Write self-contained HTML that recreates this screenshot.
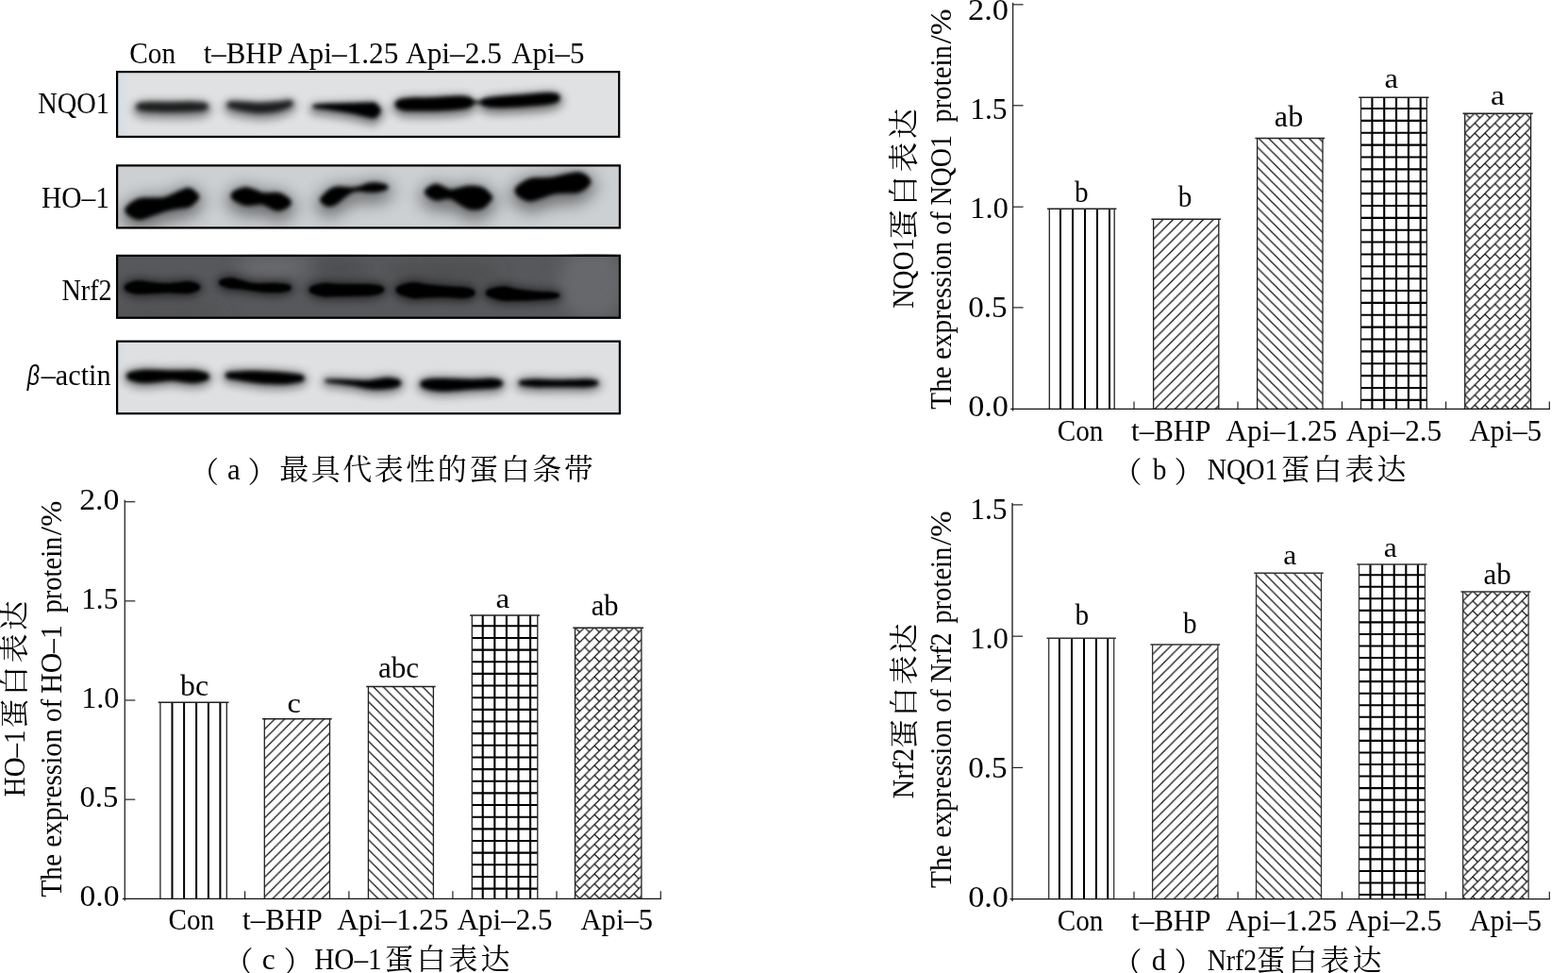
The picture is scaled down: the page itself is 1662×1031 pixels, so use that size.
<!DOCTYPE html>
<html lang="zh"><head><meta charset="utf-8"><title>Figure</title>
<style>html,body{margin:0;padding:0;background:#fff}body{width:1662px;height:1031px;overflow:hidden;position:relative;font-family:"Liberation Serif",serif}svg{position:absolute;left:0;top:0;display:block;will-change:transform}text{font-family:"Liberation Serif",serif;font-kerning:none;white-space:pre}text.cjk{font-family:"Liberation Serif","Noto Serif CJK SC",serif}</style>
</head><body>
<svg width="1662" height="1031" viewBox="0 0 1662 1031">
<defs>
<filter id="b1" filterUnits="userSpaceOnUse" x="90" y="50" width="600" height="420"><feGaussianBlur stdDeviation="1.6"/></filter>
<filter id="b2" filterUnits="userSpaceOnUse" x="90" y="50" width="600" height="420"><feGaussianBlur stdDeviation="2.2"/></filter>
<filter id="b25" filterUnits="userSpaceOnUse" x="90" y="50" width="600" height="420"><feGaussianBlur stdDeviation="2.8"/></filter>
<filter id="b3" filterUnits="userSpaceOnUse" x="90" y="50" width="600" height="420"><feGaussianBlur stdDeviation="5"/></filter>
<filter id="b4" filterUnits="userSpaceOnUse" x="90" y="50" width="600" height="420"><feGaussianBlur stdDeviation="9"/></filter>
</defs>
<clipPath id="cs1"><rect x="123.00" y="75.00" width="534.30" height="71.00"/></clipPath>
<g clip-path="url(#cs1)">
<rect x="123.00" y="75.00" width="534.30" height="71.00" fill="#dfe1e3"/>
<rect x="123" y="75" width="9" height="71" fill="#c6dcee" opacity="0.3" filter="url(#b2)"/>
<path d="M140.26 116.00 C140.26 113.43 143.71 109.80 147.00 108.30 C150.29 106.80 154.00 107.18 160.00 107.00 C166.00 106.82 175.50 107.23 183.00 107.20 C190.50 107.17 199.17 106.65 205.00 106.80 C210.83 106.95 214.71 106.60 218.00 108.10 C221.29 109.60 224.74 113.23 224.74 115.80 C224.74 118.37 221.29 121.90 218.00 123.50 C214.71 125.10 210.83 124.98 205.00 125.40 C199.17 125.82 190.50 125.97 183.00 126.00 C175.50 126.03 166.00 125.98 160.00 125.60 C154.00 125.22 150.29 125.30 147.00 123.70 C143.71 122.10 140.26 118.57 140.26 116.00Z" fill="#060606" filter="url(#b3)" opacity="0.42"/>
<path d="M144.36 113.00 C144.36 111.80 144.39 110.22 147.00 109.40 C149.61 108.58 154.00 108.28 160.00 108.10 C166.00 107.92 175.50 108.33 183.00 108.30 C190.50 108.27 199.17 107.75 205.00 107.90 C210.83 108.05 215.39 108.38 218.00 109.20 C220.61 110.02 220.64 111.60 220.64 112.80 C220.64 114.00 220.61 115.48 218.00 116.40 C215.39 117.32 210.83 117.88 205.00 118.30 C199.17 118.72 190.50 118.87 183.00 118.90 C175.50 118.93 166.00 118.88 160.00 118.50 C154.00 118.12 149.61 117.52 147.00 116.60 C144.39 115.68 144.36 114.20 144.36 113.00Z" fill="#060606" filter="url(#b25)" opacity="0.78"/>
<path d="M236.54 114.10 C236.54 111.67 239.92 108.03 243.00 106.80 C246.08 105.57 249.67 106.53 255.00 106.70 C260.33 106.87 268.33 107.82 275.00 107.80 C281.67 107.78 289.50 107.05 295.00 106.60 C300.50 106.15 304.73 104.10 308.00 105.10 C311.27 106.10 314.60 110.10 314.60 112.60 C314.60 115.10 311.27 118.03 308.00 120.10 C304.73 122.17 300.50 123.85 295.00 125.00 C289.50 126.15 281.67 127.08 275.00 127.00 C268.33 126.92 260.33 125.43 255.00 124.50 C249.67 123.57 246.08 123.13 243.00 121.40 C239.92 119.67 236.54 116.53 236.54 114.10Z" fill="#060606" filter="url(#b3)" opacity="0.42"/>
<path d="M240.64 111.10 C240.64 110.03 240.61 108.45 243.00 107.90 C245.39 107.35 249.67 107.63 255.00 107.80 C260.33 107.97 268.33 108.92 275.00 108.90 C281.67 108.88 289.50 108.15 295.00 107.70 C300.50 107.25 305.42 105.88 308.00 106.20 C310.58 106.52 310.50 108.47 310.50 109.60 C310.50 110.73 310.58 111.62 308.00 113.00 C305.42 114.38 300.50 116.75 295.00 117.90 C289.50 119.05 281.67 119.98 275.00 119.90 C268.33 119.82 260.33 118.33 255.00 117.40 C249.67 116.47 245.39 115.35 243.00 114.30 C240.61 113.25 240.64 112.17 240.64 111.10Z" fill="#060606" filter="url(#b25)" opacity="0.78"/>
<path d="M327.66 115.80 C327.66 113.90 330.11 111.25 333.00 110.10 C335.89 108.95 338.83 109.22 345.00 108.90 C351.17 108.58 362.50 108.42 370.00 108.20 C377.50 107.98 385.33 107.62 390.00 107.60 C394.67 107.58 395.05 106.03 398.00 108.10 C400.95 110.17 407.68 116.03 407.68 120.00 C407.68 123.97 400.95 130.00 398.00 131.90 C395.05 133.80 394.67 132.25 390.00 131.40 C385.33 130.55 377.50 128.18 370.00 126.80 C362.50 125.42 351.17 123.98 345.00 123.10 C338.83 122.22 335.89 122.72 333.00 121.50 C330.11 120.28 327.66 117.70 327.66 115.80Z" fill="#000" filter="url(#b3)" opacity="0.45"/>
<path d="M331.76 112.80 C331.76 112.27 330.79 111.67 333.00 111.20 C335.21 110.73 338.83 110.32 345.00 110.00 C351.17 109.68 362.50 109.52 370.00 109.30 C377.50 109.08 385.33 108.72 390.00 108.70 C394.67 108.68 395.74 107.82 398.00 109.20 C400.26 110.58 403.58 114.40 403.58 117.00 C403.58 119.60 400.26 123.58 398.00 124.80 C395.74 126.02 394.67 125.15 390.00 124.30 C385.33 123.45 377.50 121.08 370.00 119.70 C362.50 118.32 351.17 116.88 345.00 116.00 C338.83 115.12 335.21 114.93 333.00 114.40 C330.79 113.87 331.76 113.33 331.76 112.80Z" fill="#000" filter="url(#b2)" opacity="1.00"/>
<path d="M414.70 113.50 C414.70 110.67 419.12 106.78 422.00 105.00 C424.88 103.22 425.67 103.27 432.00 102.80 C438.33 102.33 451.17 102.55 460.00 102.20 C468.83 101.85 478.67 100.70 485.00 100.70 C491.33 100.70 494.52 100.40 498.00 102.20 C501.48 104.00 505.86 108.40 505.86 111.50 C505.86 114.60 501.48 118.83 498.00 120.80 C494.52 122.77 491.33 122.63 485.00 123.30 C478.67 123.97 468.83 124.58 460.00 124.80 C451.17 125.02 438.33 125.07 432.00 124.60 C425.67 124.13 424.88 123.85 422.00 122.00 C419.12 120.15 414.70 116.33 414.70 113.50Z" fill="#000" filter="url(#b3)" opacity="0.45"/>
<path d="M418.80 110.50 C418.80 109.03 419.80 107.20 422.00 106.10 C424.20 105.00 425.67 104.37 432.00 103.90 C438.33 103.43 451.17 103.65 460.00 103.30 C468.83 102.95 478.67 101.80 485.00 101.80 C491.33 101.80 495.21 102.18 498.00 103.30 C500.79 104.42 501.76 106.77 501.76 108.50 C501.76 110.23 500.79 112.42 498.00 113.70 C495.21 114.98 491.33 115.53 485.00 116.20 C478.67 116.87 468.83 117.48 460.00 117.70 C451.17 117.92 438.33 117.97 432.00 117.50 C425.67 117.03 424.20 116.07 422.00 114.90 C419.80 113.73 418.80 111.97 418.80 110.50Z" fill="#000" filter="url(#b2)" opacity="1.00"/>
<path d="M497 108.4 L515 108.4" stroke="#000" stroke-width="3.5" filter="url(#b2)" opacity="0.9"/>
<path d="M506.19 111.50 C506.19 108.90 509.87 105.38 513.00 103.70 C516.13 102.02 518.83 102.10 525.00 101.40 C531.17 100.70 541.67 100.18 550.00 99.50 C558.33 98.82 568.33 97.55 575.00 97.30 C581.67 97.05 586.25 96.42 590.00 98.00 C593.75 99.58 597.51 103.87 597.51 106.80 C597.51 109.73 593.75 113.62 590.00 115.60 C586.25 117.58 581.67 117.88 575.00 118.70 C568.33 119.52 558.33 120.08 550.00 120.50 C541.67 120.92 531.17 121.40 525.00 121.20 C518.83 121.00 516.13 120.92 513.00 119.30 C509.87 117.68 506.19 114.10 506.19 111.50Z" fill="#000" filter="url(#b3)" opacity="0.45"/>
<path d="M510.29 108.50 C510.29 107.27 510.55 105.80 513.00 104.80 C515.45 103.80 518.83 103.20 525.00 102.50 C531.17 101.80 541.67 101.28 550.00 100.60 C558.33 99.92 568.33 98.65 575.00 98.40 C581.67 98.15 586.93 98.20 590.00 99.10 C593.07 100.00 593.41 102.23 593.41 103.80 C593.41 105.37 593.07 107.20 590.00 108.50 C586.93 109.80 581.67 110.78 575.00 111.60 C568.33 112.42 558.33 112.98 550.00 113.40 C541.67 113.82 531.17 114.30 525.00 114.10 C518.83 113.90 515.45 113.13 513.00 112.20 C510.55 111.27 510.29 109.73 510.29 108.50Z" fill="#000" filter="url(#b2)" opacity="1.00"/>
</g>
<rect x="124.10" y="76.10" width="532.10" height="68.80" fill="none" stroke="#000" stroke-width="2.20"/>
<clipPath id="cs2"><rect x="123.00" y="174.30" width="535.00" height="68.20"/></clipPath>
<g clip-path="url(#cs2)">
<rect x="123.00" y="174.30" width="535.00" height="68.20" fill="#cdd0d3"/>
<path d="M126.80 227.50 C126.80 223.50 133.47 218.48 137.00 215.50 C140.53 212.52 144.00 210.68 148.00 209.60 C152.00 208.52 156.67 209.17 161.00 209.00 C165.33 208.83 169.67 209.60 174.00 208.60 C178.33 207.60 182.83 204.67 187.00 203.00 C191.17 201.33 195.75 198.80 199.00 198.60 C202.25 198.40 203.55 199.27 206.50 201.80 C209.45 204.33 216.70 209.80 216.70 213.80 C216.70 217.80 209.45 223.00 206.50 225.80 C203.55 228.60 202.25 229.57 199.00 230.60 C195.75 231.63 191.17 231.27 187.00 232.00 C182.83 232.73 178.33 233.73 174.00 235.00 C169.67 236.27 165.33 238.17 161.00 239.60 C156.67 241.03 152.00 243.62 148.00 243.60 C144.00 243.58 140.53 242.18 137.00 239.50 C133.47 236.82 126.80 231.50 126.80 227.50Z" fill="#000" filter="url(#b4)" opacity="0.50"/>
<path d="M132.30 222.50 C132.30 220.33 134.38 218.07 137.00 216.00 C139.62 213.93 144.00 211.18 148.00 210.10 C152.00 209.02 156.67 209.67 161.00 209.50 C165.33 209.33 169.67 210.10 174.00 209.10 C178.33 208.10 182.83 205.17 187.00 203.50 C191.17 201.83 195.75 199.30 199.00 199.10 C202.25 198.90 204.47 200.68 206.50 202.30 C208.53 203.92 211.20 206.63 211.20 208.80 C211.20 210.97 208.53 213.42 206.50 215.30 C204.47 217.18 202.25 219.07 199.00 220.10 C195.75 221.13 191.17 220.77 187.00 221.50 C182.83 222.23 178.33 223.23 174.00 224.50 C169.67 225.77 165.33 227.67 161.00 229.10 C156.67 230.53 152.00 233.12 148.00 233.10 C144.00 233.08 139.62 230.77 137.00 229.00 C134.38 227.23 132.30 224.67 132.30 222.50Z" fill="#000" filter="url(#b2)" opacity="1.00"/>
<path d="M239.00 212.50 C239.00 208.83 245.00 203.97 248.50 201.50 C252.00 199.03 256.42 197.92 260.00 197.70 C263.58 197.48 266.93 199.22 270.00 200.20 C273.07 201.18 275.57 203.05 278.40 203.60 C281.23 204.15 284.20 203.50 287.00 203.50 C289.80 203.50 292.20 202.77 295.20 203.60 C298.20 204.43 301.78 205.85 305.00 208.50 C308.22 211.15 314.50 215.83 314.50 219.50 C314.50 223.17 308.22 228.05 305.00 230.50 C301.78 232.95 298.20 234.03 295.20 234.20 C292.20 234.37 289.80 232.63 287.00 231.50 C284.20 230.37 281.23 228.02 278.40 227.40 C275.57 226.78 273.07 227.65 270.00 227.80 C266.93 227.95 263.58 229.02 260.00 228.30 C256.42 227.58 252.00 226.13 248.50 223.50 C245.00 220.87 239.00 216.17 239.00 212.50Z" fill="#000" filter="url(#b4)" opacity="0.50"/>
<path d="M244.50 207.50 C244.50 205.67 245.92 203.55 248.50 202.00 C251.08 200.45 256.42 198.42 260.00 198.20 C263.58 197.98 266.93 199.72 270.00 200.70 C273.07 201.68 275.57 203.55 278.40 204.10 C281.23 204.65 284.20 204.00 287.00 204.00 C289.80 204.00 292.20 203.27 295.20 204.10 C298.20 204.93 302.70 207.27 305.00 209.00 C307.30 210.73 309.00 212.67 309.00 214.50 C309.00 216.33 307.30 218.47 305.00 220.00 C302.70 221.53 298.20 223.53 295.20 223.70 C292.20 223.87 289.80 222.13 287.00 221.00 C284.20 219.87 281.23 217.52 278.40 216.90 C275.57 216.28 273.07 217.15 270.00 217.30 C266.93 217.45 263.58 218.52 260.00 217.80 C256.42 217.08 251.08 214.72 248.50 213.00 C245.92 211.28 244.50 209.33 244.50 207.50Z" fill="#000" filter="url(#b2)" opacity="1.00"/>
<path d="M333.50 216.50 C333.50 212.83 340.25 208.33 343.00 205.50 C345.75 202.67 347.50 200.92 350.00 199.50 C352.50 198.08 355.33 197.33 358.00 197.00 C360.67 196.67 363.33 197.32 366.00 197.50 C368.67 197.68 371.33 198.27 374.00 198.10 C376.67 197.93 379.33 197.27 382.00 196.50 C384.67 195.73 387.33 194.12 390.00 193.50 C392.67 192.88 395.33 192.72 398.00 192.80 C400.67 192.88 404.00 193.55 406.00 194.00 C408.00 194.45 408.10 193.92 410.00 195.50 C411.90 197.08 417.40 200.83 417.40 203.50 C417.40 206.17 411.90 209.92 410.00 211.50 C408.10 213.08 408.00 212.52 406.00 213.00 C404.00 213.48 400.67 214.15 398.00 214.40 C395.33 214.65 392.67 214.65 390.00 214.50 C387.33 214.35 384.67 213.50 382.00 213.50 C379.33 213.50 376.67 213.50 374.00 214.50 C371.33 215.50 368.67 217.58 366.00 219.50 C363.33 221.42 360.67 224.33 358.00 226.00 C355.33 227.67 352.50 229.25 350.00 229.50 C347.50 229.75 345.75 229.67 343.00 227.50 C340.25 225.33 333.50 220.17 333.50 216.50Z" fill="#000" filter="url(#b4)" opacity="0.50"/>
<path d="M339.00 211.50 C339.00 209.67 341.17 207.92 343.00 206.00 C344.83 204.08 347.50 201.42 350.00 200.00 C352.50 198.58 355.33 197.83 358.00 197.50 C360.67 197.17 363.33 197.82 366.00 198.00 C368.67 198.18 371.33 198.77 374.00 198.60 C376.67 198.43 379.33 197.77 382.00 197.00 C384.67 196.23 387.33 194.62 390.00 194.00 C392.67 193.38 395.33 193.22 398.00 193.30 C400.67 193.38 404.00 194.05 406.00 194.50 C408.00 194.95 409.02 195.33 410.00 196.00 C410.98 196.67 411.90 197.67 411.90 198.50 C411.90 199.33 410.98 200.33 410.00 201.00 C409.02 201.67 408.00 202.02 406.00 202.50 C404.00 202.98 400.67 203.65 398.00 203.90 C395.33 204.15 392.67 204.15 390.00 204.00 C387.33 203.85 384.67 203.00 382.00 203.00 C379.33 203.00 376.67 203.00 374.00 204.00 C371.33 205.00 368.67 207.08 366.00 209.00 C363.33 210.92 360.67 213.83 358.00 215.50 C355.33 217.17 352.50 218.75 350.00 219.00 C347.50 219.25 344.83 218.25 343.00 217.00 C341.17 215.75 339.00 213.33 339.00 211.50Z" fill="#000" filter="url(#b2)" opacity="1.00"/>
<path d="M444.35 208.50 C444.35 205.00 450.56 200.37 453.50 198.00 C456.44 195.63 459.25 194.47 462.00 194.30 C464.75 194.13 467.40 196.02 470.00 197.00 C472.60 197.98 474.93 199.95 477.60 200.20 C480.27 200.45 483.10 199.12 486.00 198.50 C488.90 197.88 492.00 196.82 495.00 196.50 C498.00 196.18 501.17 196.30 504.00 196.60 C506.83 196.90 509.75 197.32 512.00 198.30 C514.25 199.28 514.88 199.80 517.50 202.50 C520.12 205.20 527.70 210.50 527.70 214.50 C527.70 218.50 520.12 223.70 517.50 226.50 C514.88 229.30 514.25 230.22 512.00 231.30 C509.75 232.38 506.83 232.97 504.00 233.00 C501.17 233.03 498.00 232.58 495.00 231.50 C492.00 230.42 488.90 228.15 486.00 226.50 C483.10 224.85 480.27 222.35 477.60 221.60 C474.93 220.85 472.60 221.75 470.00 222.00 C467.40 222.25 464.75 223.60 462.00 223.10 C459.25 222.60 456.44 221.43 453.50 219.00 C450.56 216.57 444.35 212.00 444.35 208.50Z" fill="#000" filter="url(#b4)" opacity="0.50"/>
<path d="M449.85 203.50 C449.85 201.83 451.48 199.95 453.50 198.50 C455.52 197.05 459.25 194.97 462.00 194.80 C464.75 194.63 467.40 196.52 470.00 197.50 C472.60 198.48 474.93 200.45 477.60 200.70 C480.27 200.95 483.10 199.62 486.00 199.00 C488.90 198.38 492.00 197.32 495.00 197.00 C498.00 196.68 501.17 196.80 504.00 197.10 C506.83 197.40 509.75 197.82 512.00 198.80 C514.25 199.78 515.80 201.22 517.50 203.00 C519.20 204.78 522.20 207.33 522.20 209.50 C522.20 211.67 519.20 214.12 517.50 216.00 C515.80 217.88 514.25 219.72 512.00 220.80 C509.75 221.88 506.83 222.47 504.00 222.50 C501.17 222.53 498.00 222.08 495.00 221.00 C492.00 219.92 488.90 217.65 486.00 216.00 C483.10 214.35 480.27 211.85 477.60 211.10 C474.93 210.35 472.60 211.25 470.00 211.50 C467.40 211.75 464.75 213.10 462.00 212.60 C459.25 212.10 455.52 210.02 453.50 208.50 C451.48 206.98 449.85 205.17 449.85 203.50Z" fill="#000" filter="url(#b2)" opacity="1.00"/>
<path d="M539.95 207.00 C539.95 202.83 546.83 197.60 550.50 194.50 C554.17 191.40 557.92 189.53 562.00 188.40 C566.08 187.27 570.77 187.98 575.00 187.70 C579.23 187.42 583.23 187.37 587.40 186.70 C591.57 186.03 595.78 184.53 600.00 183.70 C604.22 182.87 609.12 181.48 612.70 181.70 C616.28 181.92 618.27 182.37 621.50 185.00 C624.73 187.63 632.05 193.33 632.05 197.50 C632.05 201.67 624.73 207.13 621.50 210.00 C618.27 212.87 616.28 213.82 612.70 214.70 C609.12 215.58 604.22 215.03 600.00 215.30 C595.78 215.57 591.57 215.47 587.40 216.30 C583.23 217.13 579.23 219.02 575.00 220.30 C570.77 221.58 566.08 224.13 562.00 224.00 C557.92 223.87 554.17 222.33 550.50 219.50 C546.83 216.67 539.95 211.17 539.95 207.00Z" fill="#000" filter="url(#b4)" opacity="0.50"/>
<path d="M545.45 202.00 C545.45 199.67 547.74 197.18 550.50 195.00 C553.26 192.82 557.92 190.03 562.00 188.90 C566.08 187.77 570.77 188.48 575.00 188.20 C579.23 187.92 583.23 187.87 587.40 187.20 C591.57 186.53 595.78 185.03 600.00 184.20 C604.22 183.37 609.12 181.98 612.70 182.20 C616.28 182.42 619.19 183.78 621.50 185.50 C623.81 187.22 626.55 190.17 626.55 192.50 C626.55 194.83 623.81 197.55 621.50 199.50 C619.19 201.45 616.28 203.32 612.70 204.20 C609.12 205.08 604.22 204.53 600.00 204.80 C595.78 205.07 591.57 204.97 587.40 205.80 C583.23 206.63 579.23 208.52 575.00 209.80 C570.77 211.08 566.08 213.63 562.00 213.50 C557.92 213.37 553.26 210.92 550.50 209.00 C547.74 207.08 545.45 204.33 545.45 202.00Z" fill="#000" filter="url(#b2)" opacity="1.00"/>
</g>
<rect x="124.10" y="175.40" width="532.80" height="66.00" fill="none" stroke="#000" stroke-width="2.20"/>
<clipPath id="cs3"><rect x="123.00" y="269.80" width="535.00" height="68.00"/></clipPath>
<g clip-path="url(#cs3)">
<rect x="123.00" y="269.80" width="535.00" height="68.00" fill="#57585b"/>
<g filter="url(#b4)">
<ellipse cx="290" cy="283" rx="40" ry="10" fill="#77787b" opacity="0.7"/>
<ellipse cx="628" cy="300" rx="36" ry="40" fill="#6c6d70" opacity="0.8"/>
<ellipse cx="470" cy="290" rx="60" ry="12" fill="#48484a" opacity="0.6"/>
<ellipse cx="360" cy="285" rx="30" ry="10" fill="#454547" opacity="0.6"/>
<ellipse cx="180" cy="330" rx="60" ry="8" fill="#4a4a4c" opacity="0.5"/>
</g>
<path d="M128.55 305.10 C128.55 302.77 131.76 299.80 134.50 298.10 C137.24 296.40 140.75 295.22 145.00 294.90 C149.25 294.58 154.90 295.77 160.00 296.20 C165.10 296.63 170.60 297.45 175.60 297.50 C180.60 297.55 185.77 296.80 190.00 296.50 C194.23 296.20 197.75 295.48 201.00 295.70 C204.25 295.92 207.09 296.28 209.50 297.80 C211.91 299.32 215.45 302.47 215.45 304.80 C215.45 307.13 211.91 310.18 209.50 311.80 C207.09 313.42 204.25 314.05 201.00 314.50 C197.75 314.95 194.23 314.60 190.00 314.50 C185.77 314.40 180.60 313.85 175.60 313.90 C170.60 313.95 165.10 314.57 160.00 314.80 C154.90 315.03 149.25 315.75 145.00 315.30 C140.75 314.85 137.24 313.80 134.50 312.10 C131.76 310.40 128.55 307.43 128.55 305.10Z" fill="#000" filter="url(#b3)" opacity="0.55"/>
<path d="M131.75 304.60 C131.75 303.33 132.29 301.97 134.50 300.80 C136.71 299.63 140.75 297.92 145.00 297.60 C149.25 297.28 154.90 298.47 160.00 298.90 C165.10 299.33 170.60 300.15 175.60 300.20 C180.60 300.25 185.77 299.50 190.00 299.20 C194.23 298.90 197.75 298.18 201.00 298.40 C204.25 298.62 207.62 299.52 209.50 300.50 C211.38 301.48 212.25 303.03 212.25 304.30 C212.25 305.57 211.38 307.02 209.50 308.10 C207.62 309.18 204.25 310.35 201.00 310.80 C197.75 311.25 194.23 310.90 190.00 310.80 C185.77 310.70 180.60 310.15 175.60 310.20 C170.60 310.25 165.10 310.87 160.00 311.10 C154.90 311.33 149.25 312.05 145.00 311.60 C140.75 311.15 136.71 309.57 134.50 308.40 C132.29 307.23 131.75 305.87 131.75 304.60Z" fill="#000" filter="url(#b1)" opacity="1.00"/>
<path d="M228.90 300.00 C228.90 297.83 231.87 294.92 234.50 293.50 C237.13 292.08 241.12 291.37 244.70 291.50 C248.28 291.63 252.07 293.32 256.00 294.30 C259.93 295.28 263.97 296.85 268.30 297.40 C272.63 297.95 277.52 297.58 282.00 297.60 C286.48 297.62 291.12 297.27 295.20 297.50 C299.28 297.73 303.71 297.70 306.50 299.00 C309.29 300.30 311.96 303.20 311.96 305.30 C311.96 307.40 309.29 310.20 306.50 311.60 C303.71 313.00 299.28 313.40 295.20 313.70 C291.12 314.00 286.48 313.68 282.00 313.40 C277.52 313.12 272.63 312.52 268.30 312.00 C263.97 311.48 259.93 310.72 256.00 310.30 C252.07 309.88 248.28 310.13 244.70 309.50 C241.12 308.87 237.13 308.08 234.50 306.50 C231.87 304.92 228.90 302.17 228.90 300.00Z" fill="#000" filter="url(#b3)" opacity="0.55"/>
<path d="M232.10 299.50 C232.10 298.40 232.40 297.08 234.50 296.20 C236.60 295.32 241.12 294.07 244.70 294.20 C248.28 294.33 252.07 296.02 256.00 297.00 C259.93 297.98 263.97 299.55 268.30 300.10 C272.63 300.65 277.52 300.28 282.00 300.30 C286.48 300.32 291.12 299.97 295.20 300.20 C299.28 300.43 304.24 300.93 306.50 301.70 C308.76 302.47 308.76 303.77 308.76 304.80 C308.76 305.83 308.76 307.03 306.50 307.90 C304.24 308.77 299.28 309.70 295.20 310.00 C291.12 310.30 286.48 309.98 282.00 309.70 C277.52 309.42 272.63 308.82 268.30 308.30 C263.97 307.78 259.93 307.02 256.00 306.60 C252.07 306.18 248.28 306.43 244.70 305.80 C241.12 305.17 236.60 303.85 234.50 302.80 C232.40 301.75 232.10 300.60 232.10 299.50Z" fill="#000" filter="url(#b1)" opacity="1.00"/>
<path d="M324.55 307.50 C324.55 305.17 327.52 302.17 330.50 300.50 C333.48 298.83 337.48 297.87 342.40 297.50 C347.32 297.13 354.07 298.15 360.00 298.30 C365.93 298.45 372.67 298.37 378.00 298.40 C383.33 298.43 388.17 298.32 392.00 298.50 C395.83 298.68 398.75 299.03 401.00 299.50 C403.25 299.97 403.88 300.00 405.50 301.30 C407.12 302.60 410.75 305.30 410.75 307.30 C410.75 309.30 407.12 311.93 405.50 313.30 C403.88 314.67 403.25 314.90 401.00 315.50 C398.75 316.10 395.83 316.58 392.00 316.90 C388.17 317.22 383.33 317.27 378.00 317.40 C372.67 317.53 365.93 317.62 360.00 317.70 C354.07 317.78 347.32 318.43 342.40 317.90 C337.48 317.37 333.48 316.23 330.50 314.50 C327.52 312.77 324.55 309.83 324.55 307.50Z" fill="#000" filter="url(#b3)" opacity="0.55"/>
<path d="M327.75 307.00 C327.75 305.73 328.06 304.33 330.50 303.20 C332.94 302.07 337.48 300.57 342.40 300.20 C347.32 299.83 354.07 300.85 360.00 301.00 C365.93 301.15 372.67 301.07 378.00 301.10 C383.33 301.13 388.17 301.02 392.00 301.20 C395.83 301.38 398.75 301.73 401.00 302.20 C403.25 302.67 404.41 303.23 405.50 304.00 C406.59 304.77 407.55 305.87 407.55 306.80 C407.55 307.73 406.59 308.77 405.50 309.60 C404.41 310.43 403.25 311.20 401.00 311.80 C398.75 312.40 395.83 312.88 392.00 313.20 C388.17 313.52 383.33 313.57 378.00 313.70 C372.67 313.83 365.93 313.92 360.00 314.00 C354.07 314.08 347.32 314.73 342.40 314.20 C337.48 313.67 332.94 312.00 330.50 310.80 C328.06 309.60 327.75 308.27 327.75 307.00Z" fill="#000" filter="url(#b1)" opacity="1.00"/>
<path d="M416.50 307.80 C416.50 305.30 419.35 302.17 422.80 300.30 C426.25 298.43 432.33 296.88 437.20 296.60 C442.07 296.32 447.23 298.03 452.00 298.60 C456.77 299.17 461.13 299.60 465.80 300.00 C470.47 300.40 475.80 300.73 480.00 301.00 C484.20 301.27 487.53 301.15 491.00 301.60 C494.47 302.05 498.18 302.18 500.80 303.70 C503.43 305.22 506.75 308.37 506.75 310.70 C506.75 313.03 503.43 316.22 500.80 317.70 C498.18 319.18 494.47 319.35 491.00 319.60 C487.53 319.85 484.20 319.33 480.00 319.20 C475.80 319.07 470.47 318.80 465.80 318.80 C461.13 318.80 456.77 319.07 452.00 319.20 C447.23 319.33 442.07 320.25 437.20 319.60 C432.33 318.95 426.25 317.27 422.80 315.30 C419.35 313.33 416.50 310.30 416.50 307.80Z" fill="#000" filter="url(#b3)" opacity="0.55"/>
<path d="M419.70 307.30 C419.70 305.87 419.88 304.33 422.80 303.00 C425.72 301.67 432.33 299.58 437.20 299.30 C442.07 299.02 447.23 300.73 452.00 301.30 C456.77 301.87 461.13 302.30 465.80 302.70 C470.47 303.10 475.80 303.43 480.00 303.70 C484.20 303.97 487.53 303.85 491.00 304.30 C494.47 304.75 498.71 305.42 500.80 306.40 C502.89 307.38 503.55 308.93 503.55 310.20 C503.55 311.47 502.89 313.05 500.80 314.00 C498.71 314.95 494.47 315.65 491.00 315.90 C487.53 316.15 484.20 315.63 480.00 315.50 C475.80 315.37 470.47 315.10 465.80 315.10 C461.13 315.10 456.77 315.37 452.00 315.50 C447.23 315.63 442.07 316.55 437.20 315.90 C432.33 315.25 425.72 313.03 422.80 311.60 C419.88 310.17 419.70 308.73 419.70 307.30Z" fill="#000" filter="url(#b1)" opacity="1.00"/>
<path d="M511.85 311.00 C511.85 308.67 514.27 305.70 517.80 304.00 C521.32 302.30 528.30 300.93 533.00 300.80 C537.70 300.67 541.75 302.48 546.00 303.20 C550.25 303.92 554.17 304.58 558.50 305.10 C562.83 305.62 567.80 306.03 572.00 306.30 C576.20 306.57 580.45 306.42 583.70 306.70 C586.95 306.98 589.38 306.87 591.50 308.00 C593.62 309.13 596.40 311.67 596.40 313.50 C596.40 315.33 593.62 317.83 591.50 319.00 C589.38 320.17 586.95 320.12 583.70 320.50 C580.45 320.88 576.20 321.03 572.00 321.30 C567.80 321.57 562.83 321.95 558.50 322.10 C554.17 322.25 550.25 322.18 546.00 322.20 C541.75 322.22 537.70 322.90 533.00 322.20 C528.30 321.50 521.32 319.87 517.80 318.00 C514.27 316.13 511.85 313.33 511.85 311.00Z" fill="#000" filter="url(#b3)" opacity="0.55"/>
<path d="M515.05 310.50 C515.05 309.23 514.81 307.87 517.80 306.70 C520.79 305.53 528.30 303.63 533.00 303.50 C537.70 303.37 541.75 305.18 546.00 305.90 C550.25 306.62 554.17 307.28 558.50 307.80 C562.83 308.32 567.80 308.73 572.00 309.00 C576.20 309.27 580.45 309.12 583.70 309.40 C586.95 309.68 589.92 310.10 591.50 310.70 C593.08 311.30 593.20 312.23 593.20 313.00 C593.20 313.77 593.08 314.67 591.50 315.30 C589.92 315.93 586.95 316.42 583.70 316.80 C580.45 317.18 576.20 317.33 572.00 317.60 C567.80 317.87 562.83 318.25 558.50 318.40 C554.17 318.55 550.25 318.48 546.00 318.50 C541.75 318.52 537.70 319.20 533.00 318.50 C528.30 317.80 520.79 315.63 517.80 314.30 C514.81 312.97 515.05 311.77 515.05 310.50Z" fill="#000" filter="url(#b1)" opacity="1.00"/>
</g>
<rect x="124.10" y="270.90" width="532.80" height="65.80" fill="none" stroke="#000" stroke-width="2.20"/>
<clipPath id="cs4"><rect x="123.00" y="360.60" width="535.00" height="78.70"/></clipPath>
<g clip-path="url(#cs4)">
<rect x="123.00" y="360.60" width="535.00" height="78.70" fill="#dee0e2"/>
<rect x="123" y="361" width="8" height="30" fill="#c6dcee" opacity="0.25" filter="url(#b2)"/>
<path d="M130.05 400.00 C130.05 397.33 133.68 393.77 137.00 392.00 C140.32 390.23 145.33 389.83 150.00 389.40 C154.67 388.97 159.67 389.30 165.00 389.40 C170.33 389.50 177.00 389.93 182.00 390.00 C187.00 390.07 190.83 389.80 195.00 389.80 C199.17 389.80 203.00 389.52 207.00 390.00 C211.00 390.48 215.84 390.92 219.00 392.70 C222.16 394.48 225.95 398.03 225.95 400.70 C225.95 403.37 222.16 406.88 219.00 408.70 C215.84 410.52 211.00 411.25 207.00 411.60 C203.00 411.95 199.17 411.23 195.00 410.80 C190.83 410.37 187.00 409.00 182.00 409.00 C177.00 409.00 170.33 410.40 165.00 410.80 C159.67 411.20 154.67 411.87 150.00 411.40 C145.33 410.93 140.32 409.90 137.00 408.00 C133.68 406.10 130.05 402.67 130.05 400.00Z" fill="#000" filter="url(#b3)" opacity="0.42"/>
<path d="M134.15 398.50 C134.15 397.20 134.36 395.68 137.00 394.60 C139.64 393.52 145.33 392.43 150.00 392.00 C154.67 391.57 159.67 391.90 165.00 392.00 C170.33 392.10 177.00 392.53 182.00 392.60 C187.00 392.67 190.83 392.40 195.00 392.40 C199.17 392.40 203.00 392.12 207.00 392.60 C211.00 393.08 216.53 394.20 219.00 395.30 C221.47 396.40 221.85 397.90 221.85 399.20 C221.85 400.50 221.47 401.97 219.00 403.10 C216.53 404.23 211.00 405.65 207.00 406.00 C203.00 406.35 199.17 405.63 195.00 405.20 C190.83 404.77 187.00 403.40 182.00 403.40 C177.00 403.40 170.33 404.80 165.00 405.20 C159.67 405.60 154.67 406.27 150.00 405.80 C145.33 405.33 139.64 403.62 137.00 402.40 C134.36 401.18 134.15 399.80 134.15 398.50Z" fill="#000" filter="url(#b2)" opacity="1.00"/>
<path d="M235.04 399.30 C235.04 396.87 238.21 393.42 241.50 392.00 C244.79 390.58 250.38 391.05 254.80 390.80 C259.22 390.55 263.80 390.50 268.00 390.50 C272.20 390.50 275.83 390.63 280.00 390.80 C284.17 390.97 288.83 391.22 293.00 391.50 C297.17 391.78 300.50 391.95 305.00 392.50 C309.50 393.05 316.40 393.17 320.00 394.80 C323.60 396.43 326.60 399.80 326.60 402.30 C326.60 404.80 323.60 408.10 320.00 409.80 C316.40 411.50 309.50 411.98 305.00 412.50 C300.50 413.02 297.17 412.92 293.00 412.90 C288.83 412.88 284.17 412.70 280.00 412.40 C275.83 412.10 272.20 411.67 268.00 411.10 C263.80 410.53 259.22 409.75 254.80 409.00 C250.38 408.25 244.79 408.22 241.50 406.60 C238.21 404.98 235.04 401.73 235.04 399.30Z" fill="#000" filter="url(#b3)" opacity="0.42"/>
<path d="M239.14 397.80 C239.14 396.73 238.89 395.33 241.50 394.60 C244.11 393.87 250.38 393.65 254.80 393.40 C259.22 393.15 263.80 393.10 268.00 393.10 C272.20 393.10 275.83 393.23 280.00 393.40 C284.17 393.57 288.83 393.82 293.00 394.10 C297.17 394.38 300.50 394.55 305.00 395.10 C309.50 395.65 317.08 396.45 320.00 397.40 C322.92 398.35 322.50 399.67 322.50 400.80 C322.50 401.93 322.92 403.18 320.00 404.20 C317.08 405.22 309.50 406.38 305.00 406.90 C300.50 407.42 297.17 407.32 293.00 407.30 C288.83 407.28 284.17 407.10 280.00 406.80 C275.83 406.50 272.20 406.07 268.00 405.50 C263.80 404.93 259.22 404.15 254.80 403.40 C250.38 402.65 244.11 401.93 241.50 401.00 C238.89 400.07 239.14 398.87 239.14 397.80Z" fill="#000" filter="url(#b2)" opacity="1.00"/>
<path d="M340.80 405.00 C340.80 403.17 343.13 400.42 346.00 399.50 C348.87 398.58 353.67 399.43 358.00 399.50 C362.33 399.57 366.75 399.73 372.00 399.90 C377.25 400.07 384.50 400.70 389.50 400.50 C394.50 400.30 398.25 399.17 402.00 398.70 C405.75 398.23 408.58 397.55 412.00 397.70 C415.42 397.85 419.63 398.00 422.50 399.60 C425.37 401.20 429.24 404.73 429.24 407.30 C429.24 409.87 425.37 413.27 422.50 415.00 C419.63 416.73 415.42 417.15 412.00 417.70 C408.58 418.25 405.75 418.33 402.00 418.30 C398.25 418.27 394.50 418.20 389.50 417.50 C384.50 416.80 377.25 415.00 372.00 414.10 C366.75 413.20 362.33 412.70 358.00 412.10 C353.67 411.50 348.87 411.68 346.00 410.50 C343.13 409.32 340.80 406.83 340.80 405.00Z" fill="#000" filter="url(#b3)" opacity="0.42"/>
<path d="M344.90 403.50 C344.90 403.03 343.82 402.33 346.00 402.10 C348.18 401.87 353.67 402.03 358.00 402.10 C362.33 402.17 366.75 402.33 372.00 402.50 C377.25 402.67 384.50 403.30 389.50 403.10 C394.50 402.90 398.25 401.77 402.00 401.30 C405.75 400.83 408.58 400.15 412.00 400.30 C415.42 400.45 420.31 401.28 422.50 402.20 C424.69 403.12 425.14 404.60 425.14 405.80 C425.14 407.00 424.69 408.35 422.50 409.40 C420.31 410.45 415.42 411.55 412.00 412.10 C408.58 412.65 405.75 412.73 402.00 412.70 C398.25 412.67 394.50 412.60 389.50 411.90 C384.50 411.20 377.25 409.40 372.00 408.50 C366.75 407.60 362.33 407.10 358.00 406.50 C353.67 405.90 348.18 405.40 346.00 404.90 C343.82 404.40 344.90 403.97 344.90 403.50Z" fill="#000" filter="url(#b2)" opacity="1.00"/>
<path d="M441.35 408.50 C441.35 405.83 445.53 402.13 448.30 400.50 C451.07 398.87 454.38 399.03 458.00 398.70 C461.62 398.37 465.50 398.47 470.00 398.50 C474.50 398.53 480.08 398.77 485.00 398.90 C489.92 399.03 495.00 399.32 499.50 399.30 C504.00 399.28 508.08 398.92 512.00 398.80 C515.92 398.68 519.92 398.37 523.00 398.60 C526.08 398.83 528.15 398.68 530.50 400.20 C532.85 401.72 537.10 405.20 537.10 407.70 C537.10 410.20 532.85 413.62 530.50 415.20 C528.15 416.78 526.08 416.77 523.00 417.20 C519.92 417.63 515.92 417.62 512.00 417.80 C508.08 417.98 504.00 418.02 499.50 418.30 C495.00 418.58 489.92 419.17 485.00 419.50 C480.08 419.83 474.50 420.33 470.00 420.30 C465.50 420.27 461.62 419.93 458.00 419.30 C454.38 418.67 451.07 418.30 448.30 416.50 C445.53 414.70 441.35 411.17 441.35 408.50Z" fill="#000" filter="url(#b3)" opacity="0.42"/>
<path d="M445.45 407.00 C445.45 405.70 446.21 404.05 448.30 403.10 C450.39 402.15 454.38 401.63 458.00 401.30 C461.62 400.97 465.50 401.07 470.00 401.10 C474.50 401.13 480.08 401.37 485.00 401.50 C489.92 401.63 495.00 401.92 499.50 401.90 C504.00 401.88 508.08 401.52 512.00 401.40 C515.92 401.28 519.92 400.97 523.00 401.20 C526.08 401.43 528.83 401.97 530.50 402.80 C532.17 403.63 533.00 405.07 533.00 406.20 C533.00 407.33 532.17 408.70 530.50 409.60 C528.83 410.50 526.08 411.17 523.00 411.60 C519.92 412.03 515.92 412.02 512.00 412.20 C508.08 412.38 504.00 412.42 499.50 412.70 C495.00 412.98 489.92 413.57 485.00 413.90 C480.08 414.23 474.50 414.73 470.00 414.70 C465.50 414.67 461.62 414.33 458.00 413.70 C454.38 413.07 450.39 412.02 448.30 410.90 C446.21 409.78 445.45 408.30 445.45 407.00Z" fill="#000" filter="url(#b2)" opacity="1.00"/>
<path d="M546.10 407.30 C546.10 405.13 548.53 402.15 552.00 400.80 C555.47 399.45 562.23 399.38 566.90 399.20 C571.57 399.02 575.82 399.57 580.00 399.70 C584.18 399.83 587.50 400.00 592.00 400.00 C596.50 400.00 601.92 399.83 607.00 399.70 C612.08 399.57 618.25 399.02 622.50 399.20 C626.75 399.38 629.85 399.45 632.50 400.80 C635.15 402.15 638.40 405.13 638.40 407.30 C638.40 409.47 635.15 412.38 632.50 413.80 C629.85 415.22 626.75 415.45 622.50 415.80 C618.25 416.15 612.08 415.90 607.00 415.90 C601.92 415.90 596.50 415.80 592.00 415.80 C587.50 415.80 584.18 415.90 580.00 415.90 C575.82 415.90 571.57 416.15 566.90 415.80 C562.23 415.45 555.47 415.22 552.00 413.80 C548.53 412.38 546.10 409.47 546.10 407.30Z" fill="#000" filter="url(#b3)" opacity="0.42"/>
<path d="M550.20 405.80 C550.20 405.00 549.22 404.07 552.00 403.40 C554.78 402.73 562.23 401.98 566.90 401.80 C571.57 401.62 575.82 402.17 580.00 402.30 C584.18 402.43 587.50 402.60 592.00 402.60 C596.50 402.60 601.92 402.43 607.00 402.30 C612.08 402.17 618.25 401.62 622.50 401.80 C626.75 401.98 630.53 402.73 632.50 403.40 C634.47 404.07 634.30 405.00 634.30 405.80 C634.30 406.60 634.47 407.47 632.50 408.20 C630.53 408.93 626.75 409.85 622.50 410.20 C618.25 410.55 612.08 410.30 607.00 410.30 C601.92 410.30 596.50 410.20 592.00 410.20 C587.50 410.20 584.18 410.30 580.00 410.30 C575.82 410.30 571.57 410.55 566.90 410.20 C562.23 409.85 554.78 408.93 552.00 408.20 C549.22 407.47 550.20 406.60 550.20 405.80Z" fill="#000" filter="url(#b2)" opacity="1.00"/>
</g>
<rect x="124.10" y="361.70" width="532.80" height="76.50" fill="none" stroke="#000" stroke-width="2.20"/>
<text x="137.30" y="66.70" font-size="32" textLength="48.85" lengthAdjust="spacingAndGlyphs" fill="#000">Con</text>
<text x="215.70" y="66.70" font-size="32" textLength="84.14" lengthAdjust="spacingAndGlyphs" fill="#000">t–BHP</text>
<text x="304.99" y="66.70" font-size="32" textLength="117.43" lengthAdjust="spacingAndGlyphs" fill="#000">Api–1.25</text>
<text x="430.09" y="66.70" font-size="32" textLength="101.83" lengthAdjust="spacingAndGlyphs" fill="#000">Api–2.5</text>
<text x="542.20" y="66.70" font-size="32" textLength="77.31" lengthAdjust="spacingAndGlyphs" fill="#000">Api–5</text>
<text x="40.18" y="120.10" font-size="32" textLength="75.83" lengthAdjust="spacingAndGlyphs" fill="#000">NQO1</text>
<text x="44.05" y="220.20" font-size="32" textLength="72.02" lengthAdjust="spacingAndGlyphs" fill="#000">HO–1</text>
<text x="65.39" y="318.00" font-size="32" textLength="53.27" lengthAdjust="spacingAndGlyphs" fill="#000">Nrf2</text>
<text x="28.77" y="407.90" font-size="29" textLength="13.30" lengthAdjust="spacingAndGlyphs" font-style="italic" fill="#000" style="font-family:&quot;Liberation Sans&quot;,sans-serif">β</text>
<text x="43.71" y="407.90" font-size="32" textLength="73.85" lengthAdjust="spacingAndGlyphs" fill="#000">–actin</text>
<text class="cjk" x="201.00" y="511.30" font-size="31" fill="#000">（</text>
<text x="240.91" y="508.00" font-size="32" textLength="13.71" lengthAdjust="spacingAndGlyphs" fill="#000">a</text>
<text class="cjk" x="262.40" y="511.30" font-size="31" fill="#000">）</text>
<text class="cjk" x="296.23" y="508.00" font-size="31" fill="#000" textLength="332.40" lengthAdjust="spacing">最具代表性的蛋白条带</text>
<defs>
<pattern id="p0a" patternUnits="userSpaceOnUse" width="10.670" height="10.670" x="1222.60" y="232.13"><path d="M-1.000 11.670 L11.670 -1.000 M-1.000 1.000 L1.000 -1.000 M9.670 11.670 L11.670 9.670" stroke="#111" stroke-width="1.25" fill="none"/></pattern>
<pattern id="p0b" patternUnits="userSpaceOnUse" width="10.670" height="10.670" x="1332.60" y="145.03"><path d="M-1.000 -1.000 L11.670 11.670 M9.670 -1.000 L11.670 1.000 M-1.000 9.670 L1.000 11.670" stroke="#111" stroke-width="1.25" fill="none"/></pattern>
<pattern id="p0c" patternUnits="userSpaceOnUse" width="10.670" height="10.670" x="1552.62" y="119.72"><path d="M-1.000 11.670 L11.670 -1.000 M-1.000 1.000 L1.000 -1.000 M9.670 11.670 L11.670 9.670 M0.000 0.000 L5.335 5.335" stroke="#111" stroke-width="1.25" fill="none"/></pattern>
</defs>
<line x1="1124.00" y1="221.30" x2="1124.00" y2="433.40" stroke="#000" stroke-width="2"/>
<line x1="1137.00" y1="221.30" x2="1137.00" y2="433.40" stroke="#000" stroke-width="2"/>
<line x1="1150.00" y1="221.30" x2="1150.00" y2="433.40" stroke="#000" stroke-width="2"/>
<line x1="1163.00" y1="221.30" x2="1163.00" y2="433.40" stroke="#000" stroke-width="2"/>
<line x1="1176.00" y1="221.30" x2="1176.00" y2="433.40" stroke="#000" stroke-width="2"/>
<path d="M1112.30 433.40 V221.30 M1181.20 433.40 V221.30" stroke="#222" stroke-width="1.3" fill="none"/>
<line x1="1110.10" y1="221.30" x2="1183.40" y2="221.30" stroke="#222" stroke-width="1.5"/>
<rect x="1222.60" y="232.30" width="69.20" height="201.10" fill="url(#p0a)"/>
<path d="M1222.60 433.40 V232.30 M1291.80 433.40 V232.30" stroke="#222" stroke-width="1.3" fill="none"/>
<line x1="1220.40" y1="232.30" x2="1294.00" y2="232.30" stroke="#222" stroke-width="1.5"/>
<rect x="1332.60" y="146.50" width="69.40" height="286.90" fill="url(#p0b)"/>
<path d="M1332.60 433.40 V146.50 M1402.00 433.40 V146.50" stroke="#222" stroke-width="1.3" fill="none"/>
<line x1="1330.40" y1="146.50" x2="1404.20" y2="146.50" stroke="#222" stroke-width="1.5"/>
<line x1="1454.40" y1="103.30" x2="1454.40" y2="433.40" stroke="#000" stroke-width="2.1"/>
<line x1="1467.20" y1="103.30" x2="1467.20" y2="433.40" stroke="#000" stroke-width="2.1"/>
<line x1="1480.00" y1="103.30" x2="1480.00" y2="433.40" stroke="#000" stroke-width="2.1"/>
<line x1="1492.90" y1="103.30" x2="1492.90" y2="433.40" stroke="#000" stroke-width="2.1"/>
<line x1="1505.70" y1="103.30" x2="1505.70" y2="433.40" stroke="#000" stroke-width="2.1"/>
<line x1="1442.50" y1="115.00" x2="1512.30" y2="115.00" stroke="#000" stroke-width="2.1"/>
<line x1="1442.50" y1="127.87" x2="1512.30" y2="127.87" stroke="#000" stroke-width="2.1"/>
<line x1="1442.50" y1="140.74" x2="1512.30" y2="140.74" stroke="#000" stroke-width="2.1"/>
<line x1="1442.50" y1="153.61" x2="1512.30" y2="153.61" stroke="#000" stroke-width="2.1"/>
<line x1="1442.50" y1="166.48" x2="1512.30" y2="166.48" stroke="#000" stroke-width="2.1"/>
<line x1="1442.50" y1="179.35" x2="1512.30" y2="179.35" stroke="#000" stroke-width="2.1"/>
<line x1="1442.50" y1="192.22" x2="1512.30" y2="192.22" stroke="#000" stroke-width="2.1"/>
<line x1="1442.50" y1="205.09" x2="1512.30" y2="205.09" stroke="#000" stroke-width="2.1"/>
<line x1="1442.50" y1="217.96" x2="1512.30" y2="217.96" stroke="#000" stroke-width="2.1"/>
<line x1="1442.50" y1="230.83" x2="1512.30" y2="230.83" stroke="#000" stroke-width="2.1"/>
<line x1="1442.50" y1="243.70" x2="1512.30" y2="243.70" stroke="#000" stroke-width="2.1"/>
<line x1="1442.50" y1="256.57" x2="1512.30" y2="256.57" stroke="#000" stroke-width="2.1"/>
<line x1="1442.50" y1="269.44" x2="1512.30" y2="269.44" stroke="#000" stroke-width="2.1"/>
<line x1="1442.50" y1="282.31" x2="1512.30" y2="282.31" stroke="#000" stroke-width="2.1"/>
<line x1="1442.50" y1="295.18" x2="1512.30" y2="295.18" stroke="#000" stroke-width="2.1"/>
<line x1="1442.50" y1="308.05" x2="1512.30" y2="308.05" stroke="#000" stroke-width="2.1"/>
<line x1="1442.50" y1="320.92" x2="1512.30" y2="320.92" stroke="#000" stroke-width="2.1"/>
<line x1="1442.50" y1="333.79" x2="1512.30" y2="333.79" stroke="#000" stroke-width="2.1"/>
<line x1="1442.50" y1="346.66" x2="1512.30" y2="346.66" stroke="#000" stroke-width="2.1"/>
<line x1="1442.50" y1="359.53" x2="1512.30" y2="359.53" stroke="#000" stroke-width="2.1"/>
<line x1="1442.50" y1="372.40" x2="1512.30" y2="372.40" stroke="#000" stroke-width="2.1"/>
<line x1="1442.50" y1="385.27" x2="1512.30" y2="385.27" stroke="#000" stroke-width="2.1"/>
<line x1="1442.50" y1="398.14" x2="1512.30" y2="398.14" stroke="#000" stroke-width="2.1"/>
<line x1="1442.50" y1="411.01" x2="1512.30" y2="411.01" stroke="#000" stroke-width="2.1"/>
<line x1="1442.50" y1="423.88" x2="1512.30" y2="423.88" stroke="#000" stroke-width="2.1"/>
<path d="M1442.50 433.40 V103.30 M1512.30 433.40 V103.30" stroke="#222" stroke-width="1.3" fill="none"/>
<line x1="1440.30" y1="103.30" x2="1514.50" y2="103.30" stroke="#222" stroke-width="1.5"/>
<rect x="1552.70" y="120.20" width="69.90" height="313.20" fill="url(#p0c)"/>
<path d="M1552.70 433.40 V120.20 M1622.60 433.40 V120.20" stroke="#222" stroke-width="1.3" fill="none"/>
<line x1="1550.50" y1="120.20" x2="1624.80" y2="120.20" stroke="#222" stroke-width="1.5"/>
<path d="M1073.60 2.85 V435.60" stroke="#222" stroke-width="1.30" fill="none"/>
<path d="M1071.20 433.40 H1642.90" stroke="#111" stroke-width="1.3" fill="none"/>
<line x1="1073.60" y1="4.85" x2="1084.60" y2="4.85" stroke="#222" stroke-width="1.2"/>
<line x1="1073.60" y1="111.80" x2="1084.60" y2="111.80" stroke="#222" stroke-width="1.2"/>
<line x1="1073.60" y1="219.20" x2="1084.60" y2="219.20" stroke="#222" stroke-width="1.2"/>
<line x1="1073.60" y1="325.90" x2="1084.60" y2="325.90" stroke="#222" stroke-width="1.2"/>
<line x1="1202.00" y1="433.40" x2="1202.00" y2="425.40" stroke="#222" stroke-width="1.2"/>
<line x1="1312.00" y1="433.40" x2="1312.00" y2="425.40" stroke="#222" stroke-width="1.2"/>
<line x1="1422.50" y1="433.40" x2="1422.50" y2="425.40" stroke="#222" stroke-width="1.2"/>
<line x1="1532.60" y1="433.40" x2="1532.60" y2="425.40" stroke="#222" stroke-width="1.2"/>
<line x1="1642.30" y1="433.40" x2="1642.30" y2="425.40" stroke="#222" stroke-width="1.2"/>
<text x="1025.99" y="20.70" font-size="32" textLength="43.02" lengthAdjust="spacingAndGlyphs" fill="#000">2.0</text>
<text x="1028.13" y="126.20" font-size="32" textLength="39.40" lengthAdjust="spacingAndGlyphs" fill="#000">1.5</text>
<text x="1028.02" y="231.00" font-size="32" textLength="40.92" lengthAdjust="spacingAndGlyphs" fill="#000">1.0</text>
<text x="1026.24" y="336.20" font-size="32" textLength="41.35" lengthAdjust="spacingAndGlyphs" fill="#000">0.5</text>
<text x="1026.20" y="441.20" font-size="32" textLength="42.81" lengthAdjust="spacingAndGlyphs" fill="#000">0.0</text>
<text x="1120.80" y="466.90" font-size="32" textLength="48.64" lengthAdjust="spacingAndGlyphs" fill="#000">Con</text>
<text x="1199.00" y="466.90" font-size="32" textLength="84.55" lengthAdjust="spacingAndGlyphs" fill="#000">t–BHP</text>
<text x="1299.19" y="466.90" font-size="32" textLength="118.04" lengthAdjust="spacingAndGlyphs" fill="#000">Api–1.25</text>
<text x="1426.69" y="466.90" font-size="32" textLength="101.53" lengthAdjust="spacingAndGlyphs" fill="#000">Api–2.5</text>
<text x="1557.50" y="466.90" font-size="32" textLength="76.49" lengthAdjust="spacingAndGlyphs" fill="#000">Api–5</text>
<text x="1138.90" y="213.90" font-size="32" textLength="14.61" lengthAdjust="spacingAndGlyphs" fill="#000">b</text>
<text x="1248.80" y="219.00" font-size="32" textLength="14.61" lengthAdjust="spacingAndGlyphs" fill="#000">b</text>
<text x="1350.87" y="134.40" font-size="32" textLength="30.36" lengthAdjust="spacingAndGlyphs" fill="#000">ab</text>
<text x="1467.45" y="92.80" font-size="30" textLength="14.49" lengthAdjust="spacingAndGlyphs" fill="#000">a</text>
<text x="1580.03" y="110.70" font-size="30" textLength="14.83" lengthAdjust="spacingAndGlyphs" fill="#000">a</text>
<text class="cjk" x="1179.50" y="510.80" font-size="31" fill="#000">（</text>
<text x="1221.80" y="507.50" font-size="32" textLength="14.72" lengthAdjust="spacingAndGlyphs" fill="#000">b</text>
<text class="cjk" x="1244.50" y="510.80" font-size="31" fill="#000">）</text>
<text x="1279.69" y="507.50" font-size="32" textLength="75.00" lengthAdjust="spacingAndGlyphs" fill="#000">NQO1</text>
<text class="cjk" x="1357.39" y="507.80" font-size="31" fill="#000" textLength="133.20" lengthAdjust="spacing">蛋白表达</text>
<text x="-326.80" y="968.40" font-size="32" textLength="74.48" lengthAdjust="spacingAndGlyphs" transform="rotate(-90)" fill="#000">NQO1</text>
<g transform="rotate(-90)">
<text class="cjk" x="-253.65" y="968.80" font-size="31.8" fill="#000" textLength="138.40" lengthAdjust="spacing">蛋白表达</text>
</g>
<text x="-433.73" y="1007.80" font-size="32" textLength="209.43" lengthAdjust="spacingAndGlyphs" transform="rotate(-90)" fill="#000">The expression of</text>
<text x="-217.60" y="1007.80" font-size="32" textLength="74.48" lengthAdjust="spacingAndGlyphs" transform="rotate(-90)" fill="#000">NQO1</text>
<text x="-129.66" y="1007.80" font-size="32" textLength="81.60" lengthAdjust="spacingAndGlyphs" transform="rotate(-90)" fill="#000">protein</text>
<text x="-46.60" y="1007.80" font-size="32" textLength="37.04" lengthAdjust="spacingAndGlyphs" transform="rotate(-90)" fill="#000">/%</text>
<defs>
<pattern id="p1a" patternUnits="userSpaceOnUse" width="10.450" height="10.450" x="280.30" y="762.40"><path d="M-1.000 11.450 L11.450 -1.000 M-1.000 1.000 L1.000 -1.000 M9.450 11.450 L11.450 9.450" stroke="#111" stroke-width="1.25" fill="none"/></pattern>
<pattern id="p1b" patternUnits="userSpaceOnUse" width="10.450" height="10.450" x="390.40" y="732.85"><path d="M-1.000 -1.000 L11.450 11.450 M9.450 -1.000 L11.450 1.000 M-1.000 9.450 L1.000 11.450" stroke="#111" stroke-width="1.25" fill="none"/></pattern>
<pattern id="p1c" patternUnits="userSpaceOnUse" width="10.450" height="10.450" x="609.25" y="664.71"><path d="M-1.000 11.450 L11.450 -1.000 M-1.000 1.000 L1.000 -1.000 M9.450 11.450 L11.450 9.450 M0.000 0.000 L5.225 5.225" stroke="#111" stroke-width="1.25" fill="none"/></pattern>
</defs>
<line x1="182.50" y1="744.35" x2="182.50" y2="952.30" stroke="#000" stroke-width="2"/>
<line x1="195.10" y1="744.35" x2="195.10" y2="952.30" stroke="#000" stroke-width="2"/>
<line x1="208.10" y1="744.35" x2="208.10" y2="952.30" stroke="#000" stroke-width="2"/>
<line x1="220.90" y1="744.35" x2="220.90" y2="952.30" stroke="#000" stroke-width="2"/>
<line x1="233.40" y1="744.35" x2="233.40" y2="952.30" stroke="#000" stroke-width="2"/>
<path d="M169.90 952.30 V744.35 M240.30 952.30 V744.35" stroke="#222" stroke-width="1.3" fill="none"/>
<line x1="167.70" y1="744.35" x2="242.50" y2="744.35" stroke="#222" stroke-width="1.5"/>
<rect x="280.30" y="761.85" width="69.20" height="190.45" fill="url(#p1a)"/>
<path d="M280.30 952.30 V761.85 M349.50 952.30 V761.85" stroke="#222" stroke-width="1.3" fill="none"/>
<line x1="278.10" y1="761.85" x2="351.70" y2="761.85" stroke="#222" stroke-width="1.5"/>
<rect x="390.40" y="727.45" width="69.00" height="224.85" fill="url(#p1b)"/>
<path d="M390.40 952.30 V727.45 M459.40 952.30 V727.45" stroke="#222" stroke-width="1.3" fill="none"/>
<line x1="388.20" y1="727.45" x2="461.60" y2="727.45" stroke="#222" stroke-width="1.5"/>
<line x1="511.70" y1="651.95" x2="511.70" y2="952.30" stroke="#000" stroke-width="2.1"/>
<line x1="524.30" y1="651.95" x2="524.30" y2="952.30" stroke="#000" stroke-width="2.1"/>
<line x1="536.90" y1="651.95" x2="536.90" y2="952.30" stroke="#000" stroke-width="2.1"/>
<line x1="549.50" y1="651.95" x2="549.50" y2="952.30" stroke="#000" stroke-width="2.1"/>
<line x1="562.10" y1="651.95" x2="562.10" y2="952.30" stroke="#000" stroke-width="2.1"/>
<line x1="500.30" y1="663.30" x2="569.80" y2="663.30" stroke="#000" stroke-width="2.1"/>
<line x1="500.30" y1="675.95" x2="569.80" y2="675.95" stroke="#000" stroke-width="2.1"/>
<line x1="500.30" y1="688.60" x2="569.80" y2="688.60" stroke="#000" stroke-width="2.1"/>
<line x1="500.30" y1="701.25" x2="569.80" y2="701.25" stroke="#000" stroke-width="2.1"/>
<line x1="500.30" y1="713.90" x2="569.80" y2="713.90" stroke="#000" stroke-width="2.1"/>
<line x1="500.30" y1="726.55" x2="569.80" y2="726.55" stroke="#000" stroke-width="2.1"/>
<line x1="500.30" y1="739.20" x2="569.80" y2="739.20" stroke="#000" stroke-width="2.1"/>
<line x1="500.30" y1="751.85" x2="569.80" y2="751.85" stroke="#000" stroke-width="2.1"/>
<line x1="500.30" y1="764.50" x2="569.80" y2="764.50" stroke="#000" stroke-width="2.1"/>
<line x1="500.30" y1="777.15" x2="569.80" y2="777.15" stroke="#000" stroke-width="2.1"/>
<line x1="500.30" y1="789.80" x2="569.80" y2="789.80" stroke="#000" stroke-width="2.1"/>
<line x1="500.30" y1="802.45" x2="569.80" y2="802.45" stroke="#000" stroke-width="2.1"/>
<line x1="500.30" y1="815.10" x2="569.80" y2="815.10" stroke="#000" stroke-width="2.1"/>
<line x1="500.30" y1="827.75" x2="569.80" y2="827.75" stroke="#000" stroke-width="2.1"/>
<line x1="500.30" y1="840.40" x2="569.80" y2="840.40" stroke="#000" stroke-width="2.1"/>
<line x1="500.30" y1="853.05" x2="569.80" y2="853.05" stroke="#000" stroke-width="2.1"/>
<line x1="500.30" y1="865.70" x2="569.80" y2="865.70" stroke="#000" stroke-width="2.1"/>
<line x1="500.30" y1="878.35" x2="569.80" y2="878.35" stroke="#000" stroke-width="2.1"/>
<line x1="500.30" y1="891.00" x2="569.80" y2="891.00" stroke="#000" stroke-width="2.1"/>
<line x1="500.30" y1="903.65" x2="569.80" y2="903.65" stroke="#000" stroke-width="2.1"/>
<line x1="500.30" y1="916.30" x2="569.80" y2="916.30" stroke="#000" stroke-width="2.1"/>
<line x1="500.30" y1="928.95" x2="569.80" y2="928.95" stroke="#000" stroke-width="2.1"/>
<line x1="500.30" y1="941.60" x2="569.80" y2="941.60" stroke="#000" stroke-width="2.1"/>
<path d="M500.30 952.30 V651.95 M569.80 952.30 V651.95" stroke="#222" stroke-width="1.3" fill="none"/>
<line x1="498.10" y1="651.95" x2="572.00" y2="651.95" stroke="#222" stroke-width="1.5"/>
<rect x="609.50" y="665.20" width="70.40" height="287.10" fill="url(#p1c)"/>
<path d="M609.50 952.30 V665.20 M679.90 952.30 V665.20" stroke="#222" stroke-width="1.3" fill="none"/>
<line x1="607.30" y1="665.20" x2="682.10" y2="665.20" stroke="#222" stroke-width="1.5"/>
<path d="M132.30 529.70 V954.50" stroke="#222" stroke-width="1.30" fill="none"/>
<path d="M129.90 952.30 H700.90" stroke="#111" stroke-width="1.3" fill="none"/>
<line x1="132.30" y1="531.70" x2="143.30" y2="531.70" stroke="#222" stroke-width="1.2"/>
<line x1="132.30" y1="636.85" x2="143.30" y2="636.85" stroke="#222" stroke-width="1.2"/>
<line x1="132.30" y1="742.00" x2="143.30" y2="742.00" stroke="#222" stroke-width="1.2"/>
<line x1="132.30" y1="847.15" x2="143.30" y2="847.15" stroke="#222" stroke-width="1.2"/>
<line x1="259.60" y1="952.30" x2="259.60" y2="944.30" stroke="#222" stroke-width="1.2"/>
<line x1="369.90" y1="952.30" x2="369.90" y2="944.30" stroke="#222" stroke-width="1.2"/>
<line x1="479.90" y1="952.30" x2="479.90" y2="944.30" stroke="#222" stroke-width="1.2"/>
<line x1="590.00" y1="952.30" x2="590.00" y2="944.30" stroke="#222" stroke-width="1.2"/>
<line x1="700.30" y1="952.30" x2="700.30" y2="944.30" stroke="#222" stroke-width="1.2"/>
<text x="84.21" y="540.00" font-size="32" textLength="42.27" lengthAdjust="spacingAndGlyphs" fill="#000">2.0</text>
<text x="86.26" y="645.00" font-size="32" textLength="38.96" lengthAdjust="spacingAndGlyphs" fill="#000">1.5</text>
<text x="86.17" y="750.00" font-size="32" textLength="40.26" lengthAdjust="spacingAndGlyphs" fill="#000">1.0</text>
<text x="84.46" y="855.10" font-size="32" textLength="40.82" lengthAdjust="spacingAndGlyphs" fill="#000">0.5</text>
<text x="84.42" y="960.10" font-size="32" textLength="42.06" lengthAdjust="spacingAndGlyphs" fill="#000">0.0</text>
<text x="178.61" y="985.20" font-size="32" textLength="48.53" lengthAdjust="spacingAndGlyphs" fill="#000">Con</text>
<text x="257.10" y="985.20" font-size="32" textLength="84.55" lengthAdjust="spacingAndGlyphs" fill="#000">t–BHP</text>
<text x="357.29" y="985.20" font-size="32" textLength="118.14" lengthAdjust="spacingAndGlyphs" fill="#000">Api–1.25</text>
<text x="484.70" y="985.20" font-size="32" textLength="100.81" lengthAdjust="spacingAndGlyphs" fill="#000">Api–2.5</text>
<text x="615.50" y="985.20" font-size="32" textLength="76.49" lengthAdjust="spacingAndGlyphs" fill="#000">Api–5</text>
<text x="191.10" y="736.90" font-size="32" textLength="29.98" lengthAdjust="spacingAndGlyphs" fill="#000">bc</text>
<text x="304.47" y="754.80" font-size="30" textLength="14.32" lengthAdjust="spacingAndGlyphs" fill="#000">c</text>
<text x="400.91" y="718.40" font-size="32" textLength="43.15" lengthAdjust="spacingAndGlyphs" fill="#000">abc</text>
<text x="525.53" y="644.30" font-size="30" textLength="14.72" lengthAdjust="spacingAndGlyphs" fill="#000">a</text>
<text x="626.73" y="652.00" font-size="32" textLength="28.84" lengthAdjust="spacingAndGlyphs" fill="#000">ab</text>
<text class="cjk" x="237.50" y="1029.80" font-size="31" fill="#000">（</text>
<text x="277.80" y="1026.50" font-size="32" textLength="13.97" lengthAdjust="spacingAndGlyphs" fill="#000">c</text>
<text class="cjk" x="300.50" y="1029.80" font-size="31" fill="#000">）</text>
<text x="333.16" y="1026.50" font-size="32" textLength="71.60" lengthAdjust="spacingAndGlyphs" fill="#000">HO–1</text>
<text class="cjk" x="407.39" y="1026.80" font-size="31" fill="#000" textLength="133.20" lengthAdjust="spacing">蛋白表达</text>
<text x="-844.23" y="26.00" font-size="32" textLength="70.77" lengthAdjust="spacingAndGlyphs" transform="rotate(-90)" fill="#000">HO–1</text>
<g transform="rotate(-90)">
<text class="cjk" x="-771.61" y="26.20" font-size="31" fill="#000" textLength="134.80" lengthAdjust="spacing">蛋白表达</text>
</g>
<text x="-950.53" y="65.00" font-size="32" textLength="209.83" lengthAdjust="spacingAndGlyphs" transform="rotate(-90)" fill="#000">The expression of</text>
<text x="-734.75" y="65.00" font-size="32" textLength="72.54" lengthAdjust="spacingAndGlyphs" transform="rotate(-90)" fill="#000">HO–1</text>
<text x="-649.46" y="65.00" font-size="32" textLength="80.79" lengthAdjust="spacingAndGlyphs" transform="rotate(-90)" fill="#000">protein</text>
<text x="-567.20" y="65.00" font-size="32" textLength="36.63" lengthAdjust="spacingAndGlyphs" transform="rotate(-90)" fill="#000">/%</text>
<defs>
<pattern id="p2a" patternUnits="userSpaceOnUse" width="10.440" height="10.440" x="1221.60" y="682.96"><path d="M-1.000 11.440 L11.440 -1.000 M-1.000 1.000 L1.000 -1.000 M9.440 11.440 L11.440 9.440" stroke="#111" stroke-width="1.25" fill="none"/></pattern>
<pattern id="p2b" patternUnits="userSpaceOnUse" width="10.440" height="10.440" x="1331.50" y="609.40"><path d="M-1.000 -1.000 L11.440 11.440 M9.440 -1.000 L11.440 1.000 M-1.000 9.440 L1.000 11.440" stroke="#111" stroke-width="1.25" fill="none"/></pattern>
<pattern id="p2c" patternUnits="userSpaceOnUse" width="10.440" height="10.440" x="1550.60" y="626.28"><path d="M-1.000 11.440 L11.440 -1.000 M-1.000 1.000 L1.000 -1.000 M9.440 11.440 L11.440 9.440 M0.000 0.000 L5.220 5.220" stroke="#111" stroke-width="1.25" fill="none"/></pattern>
</defs>
<line x1="1122.90" y1="676.20" x2="1122.90" y2="952.70" stroke="#000" stroke-width="2"/>
<line x1="1136.00" y1="676.20" x2="1136.00" y2="952.70" stroke="#000" stroke-width="2"/>
<line x1="1149.00" y1="676.20" x2="1149.00" y2="952.70" stroke="#000" stroke-width="2"/>
<line x1="1161.90" y1="676.20" x2="1161.90" y2="952.70" stroke="#000" stroke-width="2"/>
<line x1="1174.20" y1="676.20" x2="1174.20" y2="952.70" stroke="#000" stroke-width="2"/>
<path d="M1111.70 952.70 V676.20 M1180.70 952.70 V676.20" stroke="#333" stroke-width="1.3" fill="none"/>
<line x1="1109.50" y1="676.20" x2="1182.90" y2="676.20" stroke="#333" stroke-width="1.5"/>
<rect x="1221.60" y="683.10" width="69.30" height="269.60" fill="url(#p2a)"/>
<path d="M1221.60 952.70 V683.10 M1290.90 952.70 V683.10" stroke="#333" stroke-width="1.3" fill="none"/>
<line x1="1219.40" y1="683.10" x2="1293.10" y2="683.10" stroke="#333" stroke-width="1.5"/>
<rect x="1331.50" y="607.20" width="69.00" height="345.50" fill="url(#p2b)"/>
<path d="M1331.50 952.70 V607.20 M1400.50 952.70 V607.20" stroke="#333" stroke-width="1.3" fill="none"/>
<line x1="1329.30" y1="607.20" x2="1402.70" y2="607.20" stroke="#333" stroke-width="1.5"/>
<line x1="1452.50" y1="597.90" x2="1452.50" y2="952.70" stroke="#000" stroke-width="2.1"/>
<line x1="1465.10" y1="597.90" x2="1465.10" y2="952.70" stroke="#000" stroke-width="2.1"/>
<line x1="1477.70" y1="597.90" x2="1477.70" y2="952.70" stroke="#000" stroke-width="2.1"/>
<line x1="1490.30" y1="597.90" x2="1490.30" y2="952.70" stroke="#000" stroke-width="2.1"/>
<line x1="1502.90" y1="597.90" x2="1502.90" y2="952.70" stroke="#000" stroke-width="2.1"/>
<line x1="1440.50" y1="609.20" x2="1510.40" y2="609.20" stroke="#000" stroke-width="2.1"/>
<line x1="1440.50" y1="621.75" x2="1510.40" y2="621.75" stroke="#000" stroke-width="2.1"/>
<line x1="1440.50" y1="634.30" x2="1510.40" y2="634.30" stroke="#000" stroke-width="2.1"/>
<line x1="1440.50" y1="646.85" x2="1510.40" y2="646.85" stroke="#000" stroke-width="2.1"/>
<line x1="1440.50" y1="659.40" x2="1510.40" y2="659.40" stroke="#000" stroke-width="2.1"/>
<line x1="1440.50" y1="671.95" x2="1510.40" y2="671.95" stroke="#000" stroke-width="2.1"/>
<line x1="1440.50" y1="684.50" x2="1510.40" y2="684.50" stroke="#000" stroke-width="2.1"/>
<line x1="1440.50" y1="697.05" x2="1510.40" y2="697.05" stroke="#000" stroke-width="2.1"/>
<line x1="1440.50" y1="709.60" x2="1510.40" y2="709.60" stroke="#000" stroke-width="2.1"/>
<line x1="1440.50" y1="722.15" x2="1510.40" y2="722.15" stroke="#000" stroke-width="2.1"/>
<line x1="1440.50" y1="734.70" x2="1510.40" y2="734.70" stroke="#000" stroke-width="2.1"/>
<line x1="1440.50" y1="747.25" x2="1510.40" y2="747.25" stroke="#000" stroke-width="2.1"/>
<line x1="1440.50" y1="759.80" x2="1510.40" y2="759.80" stroke="#000" stroke-width="2.1"/>
<line x1="1440.50" y1="772.35" x2="1510.40" y2="772.35" stroke="#000" stroke-width="2.1"/>
<line x1="1440.50" y1="784.90" x2="1510.40" y2="784.90" stroke="#000" stroke-width="2.1"/>
<line x1="1440.50" y1="797.45" x2="1510.40" y2="797.45" stroke="#000" stroke-width="2.1"/>
<line x1="1440.50" y1="810.00" x2="1510.40" y2="810.00" stroke="#000" stroke-width="2.1"/>
<line x1="1440.50" y1="822.55" x2="1510.40" y2="822.55" stroke="#000" stroke-width="2.1"/>
<line x1="1440.50" y1="835.10" x2="1510.40" y2="835.10" stroke="#000" stroke-width="2.1"/>
<line x1="1440.50" y1="847.65" x2="1510.40" y2="847.65" stroke="#000" stroke-width="2.1"/>
<line x1="1440.50" y1="860.20" x2="1510.40" y2="860.20" stroke="#000" stroke-width="2.1"/>
<line x1="1440.50" y1="872.75" x2="1510.40" y2="872.75" stroke="#000" stroke-width="2.1"/>
<line x1="1440.50" y1="885.30" x2="1510.40" y2="885.30" stroke="#000" stroke-width="2.1"/>
<line x1="1440.50" y1="897.85" x2="1510.40" y2="897.85" stroke="#000" stroke-width="2.1"/>
<line x1="1440.50" y1="910.40" x2="1510.40" y2="910.40" stroke="#000" stroke-width="2.1"/>
<line x1="1440.50" y1="922.95" x2="1510.40" y2="922.95" stroke="#000" stroke-width="2.1"/>
<line x1="1440.50" y1="935.50" x2="1510.40" y2="935.50" stroke="#000" stroke-width="2.1"/>
<line x1="1440.50" y1="948.05" x2="1510.40" y2="948.05" stroke="#000" stroke-width="2.1"/>
<path d="M1440.50 952.70 V597.90 M1510.40 952.70 V597.90" stroke="#333" stroke-width="1.3" fill="none"/>
<line x1="1438.30" y1="597.90" x2="1512.60" y2="597.90" stroke="#333" stroke-width="1.5"/>
<rect x="1550.60" y="626.90" width="69.50" height="325.80" fill="url(#p2c)"/>
<path d="M1550.60 952.70 V626.90 M1620.10 952.70 V626.90" stroke="#333" stroke-width="1.3" fill="none"/>
<line x1="1548.40" y1="626.90" x2="1622.30" y2="626.90" stroke="#333" stroke-width="1.5"/>
<path d="M1073.00 532.90 V954.90" stroke="#666" stroke-width="2.00" fill="none"/>
<path d="M1070.60 952.70 H1642.90" stroke="#111" stroke-width="1.3" fill="none"/>
<line x1="1073.00" y1="534.90" x2="1084.00" y2="534.90" stroke="#222" stroke-width="1.2"/>
<line x1="1073.00" y1="674.17" x2="1084.00" y2="674.17" stroke="#222" stroke-width="1.2"/>
<line x1="1073.00" y1="813.43" x2="1084.00" y2="813.43" stroke="#222" stroke-width="1.2"/>
<line x1="1202.00" y1="952.70" x2="1202.00" y2="944.70" stroke="#222" stroke-width="1.2"/>
<line x1="1312.10" y1="952.70" x2="1312.10" y2="944.70" stroke="#222" stroke-width="1.2"/>
<line x1="1422.50" y1="952.70" x2="1422.50" y2="944.70" stroke="#222" stroke-width="1.2"/>
<line x1="1532.60" y1="952.70" x2="1532.60" y2="944.70" stroke="#222" stroke-width="1.2"/>
<line x1="1642.30" y1="952.70" x2="1642.30" y2="944.70" stroke="#222" stroke-width="1.2"/>
<text x="1028.13" y="550.00" font-size="32" textLength="39.40" lengthAdjust="spacingAndGlyphs" fill="#000">1.5</text>
<text x="1028.02" y="687.10" font-size="32" textLength="40.92" lengthAdjust="spacingAndGlyphs" fill="#000">1.0</text>
<text x="1026.24" y="824.20" font-size="32" textLength="41.35" lengthAdjust="spacingAndGlyphs" fill="#000">0.5</text>
<text x="1026.20" y="961.30" font-size="32" textLength="42.81" lengthAdjust="spacingAndGlyphs" fill="#000">0.0</text>
<text x="1120.80" y="986.20" font-size="32" textLength="48.64" lengthAdjust="spacingAndGlyphs" fill="#000">Con</text>
<text x="1199.00" y="986.20" font-size="32" textLength="84.55" lengthAdjust="spacingAndGlyphs" fill="#000">t–BHP</text>
<text x="1299.19" y="986.20" font-size="32" textLength="118.04" lengthAdjust="spacingAndGlyphs" fill="#000">Api–1.25</text>
<text x="1426.69" y="986.20" font-size="32" textLength="101.53" lengthAdjust="spacingAndGlyphs" fill="#000">Api–2.5</text>
<text x="1557.50" y="986.20" font-size="32" textLength="76.49" lengthAdjust="spacingAndGlyphs" fill="#000">Api–5</text>
<text x="1139.60" y="661.50" font-size="32" textLength="14.61" lengthAdjust="spacingAndGlyphs" fill="#000">b</text>
<text x="1253.90" y="670.90" font-size="32" textLength="14.61" lengthAdjust="spacingAndGlyphs" fill="#000">b</text>
<text x="1360.29" y="598.20" font-size="30" textLength="14.05" lengthAdjust="spacingAndGlyphs" fill="#000">a</text>
<text x="1466.89" y="590.40" font-size="30" textLength="14.05" lengthAdjust="spacingAndGlyphs" fill="#000">a</text>
<text x="1572.41" y="619.20" font-size="32" textLength="29.27" lengthAdjust="spacingAndGlyphs" fill="#000">ab</text>
<text class="cjk" x="1179.50" y="1031.10" font-size="31" fill="#000">（</text>
<text x="1220.71" y="1027.80" font-size="32" textLength="15.06" lengthAdjust="spacingAndGlyphs" fill="#000">d</text>
<text class="cjk" x="1244.50" y="1031.10" font-size="31" fill="#000">）</text>
<text x="1279.70" y="1027.80" font-size="32" textLength="52.33" lengthAdjust="spacingAndGlyphs" fill="#000">Nrf2</text>
<text class="cjk" x="1331.39" y="1027.80" font-size="31" fill="#000" textLength="133.20" lengthAdjust="spacing">蛋白表达</text>
<text x="-846.32" y="968.40" font-size="32" textLength="53.48" lengthAdjust="spacingAndGlyphs" transform="rotate(-90)" fill="#000">Nrf2</text>
<g transform="rotate(-90)">
<text class="cjk" x="-793.11" y="968.60" font-size="31" fill="#000" textLength="132.40" lengthAdjust="spacing">蛋白表达</text>
</g>
<text x="-940.93" y="1007.80" font-size="32" textLength="210.63" lengthAdjust="spacingAndGlyphs" transform="rotate(-90)" fill="#000">The expression of</text>
<text x="-723.61" y="1007.80" font-size="32" textLength="53.27" lengthAdjust="spacingAndGlyphs" transform="rotate(-90)" fill="#000">Nrf2</text>
<text x="-660.86" y="1007.80" font-size="32" textLength="81.30" lengthAdjust="spacingAndGlyphs" transform="rotate(-90)" fill="#000">protein</text>
<text x="-578.10" y="1007.80" font-size="32" textLength="36.83" lengthAdjust="spacingAndGlyphs" transform="rotate(-90)" fill="#000">/%</text>
</svg>
</body></html>
